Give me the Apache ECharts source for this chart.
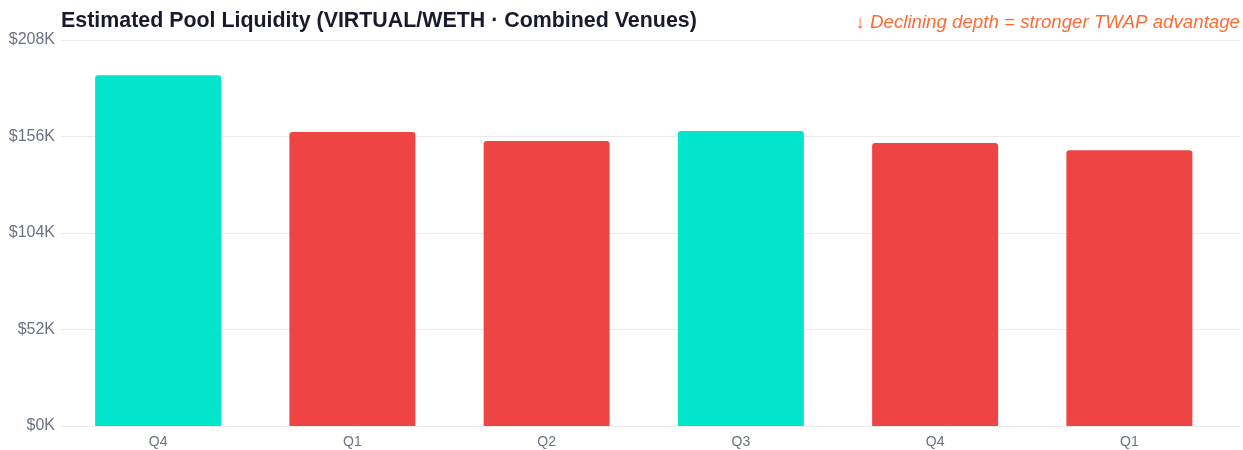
<!DOCTYPE html>
<html>
<head>
<meta charset="utf-8">
<script src="https://cdn.jsdelivr.net/npm/echarts@6/dist/echarts.min.js"></script>
<style>
html,body{margin:0;padding:0;background:#fff;}
#c{width:1243px;height:450px;}
</style>
</head>
<body>
<div id="c"></div>
<script>
const categories = ['Q4', 'Q1', 'Q2', 'Q3', 'Q4', 'Q1'];
const liquidity = [189000, 158400, 153600, 159000, 152500, 148600];
const yTicks = [0, 52000, 104000, 156000, 208000];
const titleText = 'Estimated Pool Liquidity (VIRTUAL/WETH · Combined Venues)';
const noteText = '↓ Declining depth = stronger TWAP advantage';

const UP = '#00E5CC', DOWN = '#EF4444';
const barData = liquidity.map((v, i) => ({
  value: v,
  itemStyle: { color: (i === 0 || v >= liquidity[i - 1]) ? UP : DOWN }
}));
const fmt = v => '$' + Math.round(v / 1000) + 'K';
const FONT = '"Liberation Sans", Arial, Helvetica, sans-serif';

const chart = echarts.init(document.getElementById('c'), null, { renderer: 'canvas' });
chart.setOption({
  animation: false,
  backgroundColor: '#fff',
  title: [{
    text: titleText, left: 61, top: 11, padding: 0,
    textStyle: { fontFamily: FONT, fontSize: 21.4, fontWeight: 'bold', color: '#1a1a2e' }
  }, {
    text: noteText, right: 3, top: 13, padding: 0,
    textStyle: { fontFamily: FONT, fontSize: 18.7, fontStyle: 'italic', fontWeight: 'normal', color: '#FF6B35' }
  }],
  grid: [
    { left: 61, right: 16.5, top: 40, bottom: 24, containLabel: false },
    { left: 61, right: 3, top: 40, bottom: 24, containLabel: false, z: 0 }
  ],
  xAxis: [{
    type: 'category', data: categories, gridIndex: 0,
    axisLine: { show: false }, axisTick: { show: false },
    axisLabel: { fontFamily: FONT, fontSize: 14, color: '#6b7280', margin: 9 }
  }, {
    type: 'value', gridIndex: 1, show: false, min: 0, max: 1
  }],
  yAxis: [{
    type: 'value', gridIndex: 0, min: 0, max: yTicks[yTicks.length - 1], interval: yTicks[1] - yTicks[0],
    axisLine: { show: false }, axisTick: { show: false },
    splitLine: { show: false },
    axisLabel: { fontFamily: FONT, fontSize: 16, color: '#6b7280', margin: 6, padding: [4, 0, 0, 0], formatter: fmt }
  }, {
    type: 'value', gridIndex: 1, min: 0, max: yTicks[yTicks.length - 1], interval: yTicks[1] - yTicks[0],
    axisLine: { show: false }, axisTick: { show: false }, axisLabel: { show: false },
    splitLine: { show: true, lineStyle: { color: '#ebebeb', width: 1 } }
  }],
  series: [{
    type: 'bar', xAxisIndex: 0, yAxisIndex: 0, data: barData,
    barWidth: 126, z: 3,
    itemStyle: { borderRadius: [3, 3, 0, 0] }
  }]
});
</script>
</body>
</html>
